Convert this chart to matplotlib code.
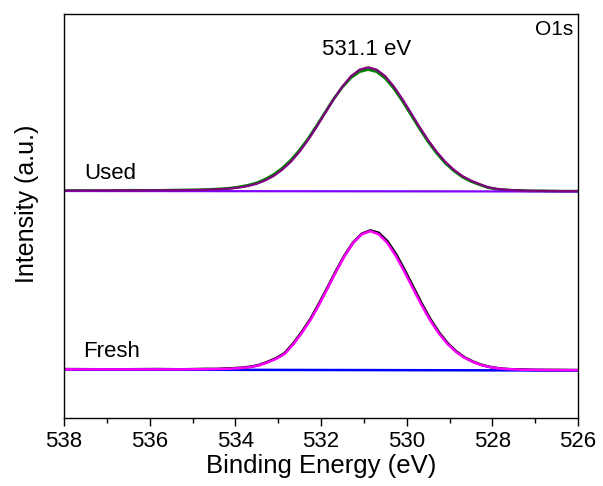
import matplotlib
matplotlib.use('Agg')
import numpy as np
import matplotlib.pyplot as plt
from matplotlib.ticker import MultipleLocator

plt.rcParams['font.family'] = ['Liberation Sans', 'DejaVu Sans']

# ---- Used sample: binding energy (eV) and peak height above background
be_used = [538.0, 537.0, 536.4, 535.9, 535.4, 534.9, 534.7, 534.5, 534.3, 534.1,
           533.9, 533.7, 533.5, 533.3, 533.1, 532.9, 532.7, 532.5, 532.3, 532.1,
           531.9, 531.7, 531.5, 531.3, 531.1, 530.9, 530.7, 530.5, 530.3, 530.1,
           529.9, 529.7, 529.5, 529.3, 529.1, 528.9, 528.7, 528.5, 528.3, 528.1,
           527.9, 527.7, 527.5, 527.3, 527.1, 526.9, 526.4, 526.0]
used_fit = [0.36, 0.5, 0.6, 0.72, 0.82, 1.15, 1.35, 1.62, 2.05, 2.7,
            3.7, 5.2, 7.4, 10.8, 15.4, 21.7, 29.6, 39.6, 51.3, 64.5,
            78.4, 92.3, 104.8, 115.1, 121.6, 124.0, 121.6, 115.1, 104.8, 92.3,
            78.4, 64.5, 51.3, 39.6, 29.6, 21.7, 15.4, 10.8, 7.4, 4.2,
            2.6, 1.7, 1.2, 0.9, 0.7, 0.55, 0.4, 0.35]
used_raw = [0.5, 0.4, 0.8, 0.6, 1.0, 1.3, 1.5, 1.9, 2.4, 3.1,
            4.3, 6.0, 8.3, 12.0, 16.8, 23.2, 31.2, 41.2, 52.6, 65.6,
            79.2, 92.6, 104.2, 113.6, 119.6, 121.8, 119.6, 113.0, 102.9, 90.4,
            76.6, 62.8, 49.7, 38.2, 28.3, 20.6, 14.4, 10.0, 6.7, 3.8,
            2.2, 1.6, 1.0, 0.9, 0.5, 0.6, 0.3, 0.35]

# ---- Fresh sample
be_fresh = [538.0, 536.85, 535.85, 535.25, 534.65, 534.45, 534.25, 534.05, 533.85, 533.65,
            533.45, 533.25, 533.05, 532.85, 532.65, 532.45, 532.25, 532.05, 531.85, 531.65,
            531.45, 531.25, 531.05, 530.85, 530.65, 530.45, 530.25, 530.05, 529.85, 529.65,
            529.45, 529.25, 529.05, 528.85, 528.65, 528.45, 528.25, 528.05, 527.85, 527.65,
            527.45, 527.25, 527.05, 526.45, 526.0]
fresh_fit = [0.15, 0.2, 0.3, 0.4, 0.6, 0.8, 1.0, 1.3, 1.9, 2.8,
             4.5, 7.5, 11.0, 16.0, 25.5, 36.9, 49.8, 64.9, 81.4, 98.2,
             114.0, 127.1, 135.8, 139.0, 135.8, 127.1, 114.0, 98.2, 81.4, 64.9,
             49.8, 36.9, 26.5, 18.4, 12.5, 8.3, 5.2, 3.2, 1.9, 1.3,
             0.9, 0.7, 0.6, 0.4, 0.3]
fresh_raw = [0.3, 0.1, 0.5, 0.3, 0.8, 0.7, 1.2, 1.5, 2.1, 3.1,
             4.8, 7.9, 11.6, 16.7, 26.3, 37.8, 50.7, 66.0, 82.3, 99.0,
             114.6, 127.5, 136.2, 139.6, 137.2, 128.8, 116.0, 100.3, 83.4, 66.6,
             51.2, 38.0, 27.3, 19.0, 12.9, 8.6, 5.4, 3.3, 2.0, 1.2,
             0.9, 0.8, 0.5, 0.4, 0.3]

# linear backgrounds (level at 538 eV, level at 526 eV), in the plot's stacked units
bg_x = [538.0, 526.0]
used_bg = [227.0, 226.5]
fresh_bg = [48.5, 47.5]


def on_bg(be, vals, bg):
    base = np.interp(be, bg_x[::-1], bg[::-1])
    return np.array(vals) + base


fig = plt.figure(figsize=(6.03, 4.86), dpi=100)
ax = fig.add_axes([64/603, 68/486, 514/603, 404/486])

# Used: raw (green), background (violet), fit (purple)
ax.plot(be_used, on_bg(be_used, used_raw, used_bg), color='#008000', lw=2.0)
ax.plot(bg_x, used_bg, color='#8000ff', lw=1.6)
ax.plot(be_used, on_bg(be_used, used_fit, used_bg), color='#800080', lw=1.6)

# Fresh: raw (black), background (blue), fit (magenta)
ax.plot(be_fresh, on_bg(be_fresh, fresh_raw, fresh_bg), color='black', lw=2.0)
ax.plot(bg_x, fresh_bg, color='#0000ff', lw=1.8)
ax.plot(be_fresh, on_bg(be_fresh, fresh_fit, fresh_bg), color='#ff00ff', lw=1.8)

ax.text(537.53, 239, 'Used', fontsize=16, ha='left', va='baseline')
ax.text(537.56, 61, 'Fresh', fontsize=16, ha='left', va='baseline')
ax.text(530.93, 363, '531.1 eV', fontsize=16, ha='center', va='baseline')
ax.text(0.99, 0.985, 'O1s', fontsize=15, ha='right', va='top', transform=ax.transAxes)

ax.set_xlim(538, 526)
ax.set_ylim(0, 404)
ax.xaxis.set_major_locator(MultipleLocator(2))
ax.xaxis.set_minor_locator(MultipleLocator(1))
ax.tick_params(axis='x', which='major', direction='out', length=6, width=1, labelsize=16)
ax.tick_params(axis='x', which='minor', direction='out', length=3.5, width=1)
ax.set_yticks([])
ax.set_xlabel('Binding Energy (eV)', fontsize=18.5, labelpad=1)
ax.set_ylabel('Intensity (a.u.)', fontsize=18, labelpad=18)
ax.yaxis.label.set_y(0.53)
for s in ax.spines.values():
    s.set_linewidth(1.0)

fig.savefig('out.png', dpi=100)
